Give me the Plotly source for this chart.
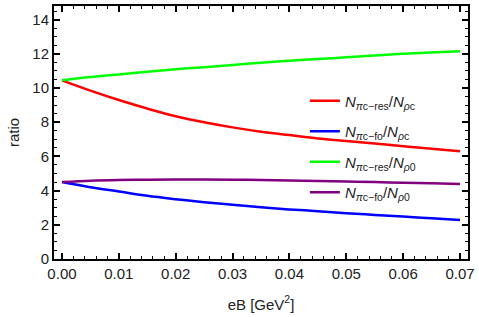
import plotly.graph_objects as go

eB = [0.0, 0.005, 0.01, 0.015, 0.02, 0.025, 0.03, 0.035, 0.04, 0.045, 0.05, 0.055, 0.06, 0.065, 0.07]
red_res_c = [10.45, 9.85, 9.3, 8.8, 8.35, 8.0, 7.7, 7.45, 7.25, 7.05, 6.9, 6.75, 6.6, 6.45, 6.3]
blue_fo_c = [4.5, 4.2, 3.95, 3.7, 3.5, 3.32, 3.17, 3.03, 2.9, 2.8, 2.68, 2.58, 2.48, 2.38, 2.28]
green_res_0 = [10.45, 10.65, 10.8, 10.95, 11.1, 11.22, 11.35, 11.48, 11.6, 11.7, 11.8, 11.9, 12.0, 12.08, 12.15]
purple_fo_0 = [4.5, 4.58, 4.62, 4.64, 4.65, 4.65, 4.64, 4.62, 4.59, 4.56, 4.53, 4.5, 4.46, 4.43, 4.39]

names = [
    "<i>N</i><sub><i>π</i>c−res</sub>/<i>N</i><sub><i>ρ</i>c</sub>",
    "<i>N</i><sub><i>π</i>c−fo</sub>/<i>N</i><sub><i>ρ</i>c</sub>",
    "<i>N</i><sub><i>π</i>c−res</sub>/<i>N</i><sub><i>ρ</i>0</sub>",
    "<i>N</i><sub><i>π</i>c−fo</sub>/<i>N</i><sub><i>ρ</i>0</sub>",
]
series = [red_res_c, blue_fo_c, green_res_0, purple_fo_0]
colors = ["#FF0000", "#0000FF", "#00FF00", "#800080"]

fig = go.Figure()
for i, (n, s, c) in enumerate(zip(names, series, colors)):
    fig.add_trace(go.Scatter(x=eB, y=s, mode="lines", name=n, legendgroup=f"g{i}",
                             line=dict(color=c, width=2.5, shape="spline")))

axis_common = dict(
    showline=True, linecolor="black", linewidth=2, mirror="allticks",
    ticks="inside", ticklen=6, tickwidth=1.5, tickcolor="black",
    showgrid=False, zeroline=False,
    tickfont=dict(family="Liberation Sans", size=15, color="#222"),
)

fig.update_xaxes(range=[-0.0014, 0.0714], tickvals=[0, 0.01, 0.02, 0.03, 0.04, 0.05, 0.06, 0.07],
                 tickformat=".2f",
                 minor=dict(dtick=0.002, ticks="inside", ticklen=3, tickcolor="black", tickwidth=1.2, tick0=0),
                 title=dict(text="eB [GeV<sup>2</sup>]", font=dict(family="Liberation Sans", size=15, color="#222"), standoff=18),
                 **axis_common)
fig.update_yaxes(range=[0, 14.8], dtick=2, tick0=0,
                 minor=dict(dtick=0.5, ticks="inside", ticklen=3, tickcolor="black", tickwidth=1.2, tick0=0),
                 title=dict(text="ratio", font=dict(family="Liberation Sans", size=15, color="#222"), standoff=9),
                 **axis_common)

fig.update_layout(
    width=479, height=317,
    margin=dict(l=54, r=9, t=4, b=58),
    plot_bgcolor="white", paper_bgcolor="white",
    showlegend=True,
    legend=dict(x=0.606, y=0.69, xanchor="left", yanchor="top", bgcolor="rgba(0,0,0,0)",
                font=dict(family="Liberation Sans", size=15, color="#222"), itemwidth=30,
                tracegroupgap=8, traceorder="grouped"),
)

fig.write_html("out.html", config={"displayModeBar": False},
               post_script="document.body.style.margin='0';document.body.style.overflow='hidden';")
